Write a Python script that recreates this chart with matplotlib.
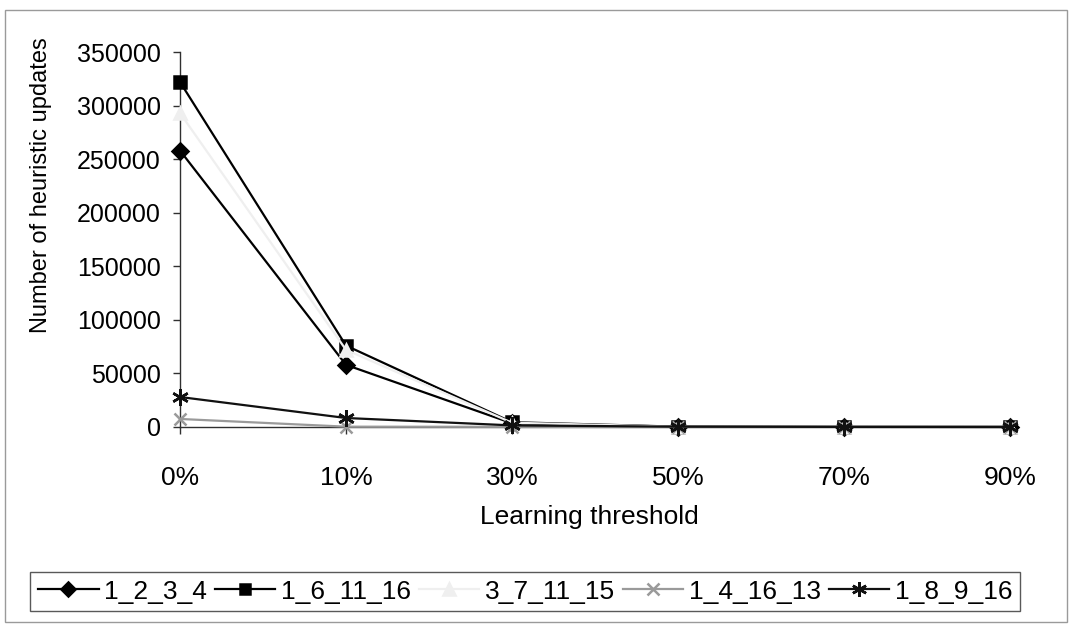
import matplotlib
matplotlib.use("Agg")
import matplotlib.pyplot as plt
from matplotlib.patches import Rectangle

plt.rcParams["font.family"] = ["Liberation Sans", "DejaVu Sans"]

# Learning threshold categories and heuristic update counts per problem instance
thresholds = ["0%", "10%", "30%", "50%", "70%", "90%"]

upd_1_2_3_4 = [258000, 58000, 3500, 300, 100, 50]
upd_1_6_11_16 = [322000, 76000, 4500, 300, 100, 50]
upd_3_7_11_15 = [293000, 72000, 4000, 200, 100, 50]
upd_1_4_16_13 = [7500, 300, 150, 50, 20, 10]
upd_1_8_9_16 = [28000, 8400, 1500, 300, 100, 50]

series = [
    ("1_2_3_4", upd_1_2_3_4, "#000000", "D", 8),
    ("1_6_11_16", upd_1_6_11_16, "#000000", "s", 8),
    ("3_7_11_15", upd_3_7_11_15, "#efefef", "^", 9),
    ("1_4_16_13", upd_1_4_16_13, "#9a9a9a", "x", 9),
    ("1_8_9_16", upd_1_8_9_16, "#111111", (6, 2, 0), 12),
]

fig = plt.figure(figsize=(10.74, 6.26), dpi=100)
ax = fig.add_axes([180 / 1074, 1 - 427 / 626, 830 / 1074, 375 / 626])

x = list(range(len(thresholds)))
for name, vals, color, marker, ms in series:
    ax.plot(x, vals, color=color, lw=1.6, marker=marker, markersize=ms,
            markerfacecolor=color, markeredgecolor=color, markeredgewidth=1.8,
            label=name, clip_on=False, zorder=3)

ax.set_xlim(0, 5)
ax.set_ylim(0, 350000)
ax.set_xticks(x)
ax.set_xticklabels(thresholds)
ax.set_yticks(range(0, 350001, 50000))
ax.set_yticklabels([str(v) for v in range(0, 350001, 50000)])

for side in ["top", "right"]:
    ax.spines[side].set_visible(False)
ax.spines["left"].set_color("#303030")
ax.spines["bottom"].set_color("#303030")
ax.spines["left"].set_linewidth(1)
ax.spines["bottom"].set_linewidth(1)

ax.tick_params(axis="y", direction="out", length=5, width=1, color="#303030",
               labelsize=18, pad=9)
ax.tick_params(axis="x", direction="out", length=5, width=1, color="#303030",
               labelsize=19, pad=23)

ax.set_xlabel("Learning threshold", fontsize=19)
ax.xaxis.set_label_coords(0.493, -0.24)
ax.xaxis.label.set_va("center")
ax.set_ylabel("Number of heuristic updates", fontsize=17)
ax.yaxis.set_label_coords(-0.167, 0.645)
ax.yaxis.label.set_va("center")

leg = ax.legend(loc="center", bbox_to_anchor=(525 / 1074, 1 - 591.5 / 626),
                bbox_transform=fig.transFigure, ncol=5, fontsize=19,
                frameon=True, fancybox=False, handlelength=2.3,
                handletextpad=0.2, columnspacing=0.3, borderpad=0.3,
                markerscale=0.9)
leg.get_frame().set_edgecolor("#303030")
leg.get_frame().set_linewidth(1)

# thin frame around the whole chart
fig.patches.append(Rectangle((5 / 1074, 4 / 626), 1062 / 1074, 612 / 626,
                             transform=fig.transFigure, fill=False,
                             edgecolor="#9a9a9a", lw=1))

fig.savefig("out.png", dpi=100)
